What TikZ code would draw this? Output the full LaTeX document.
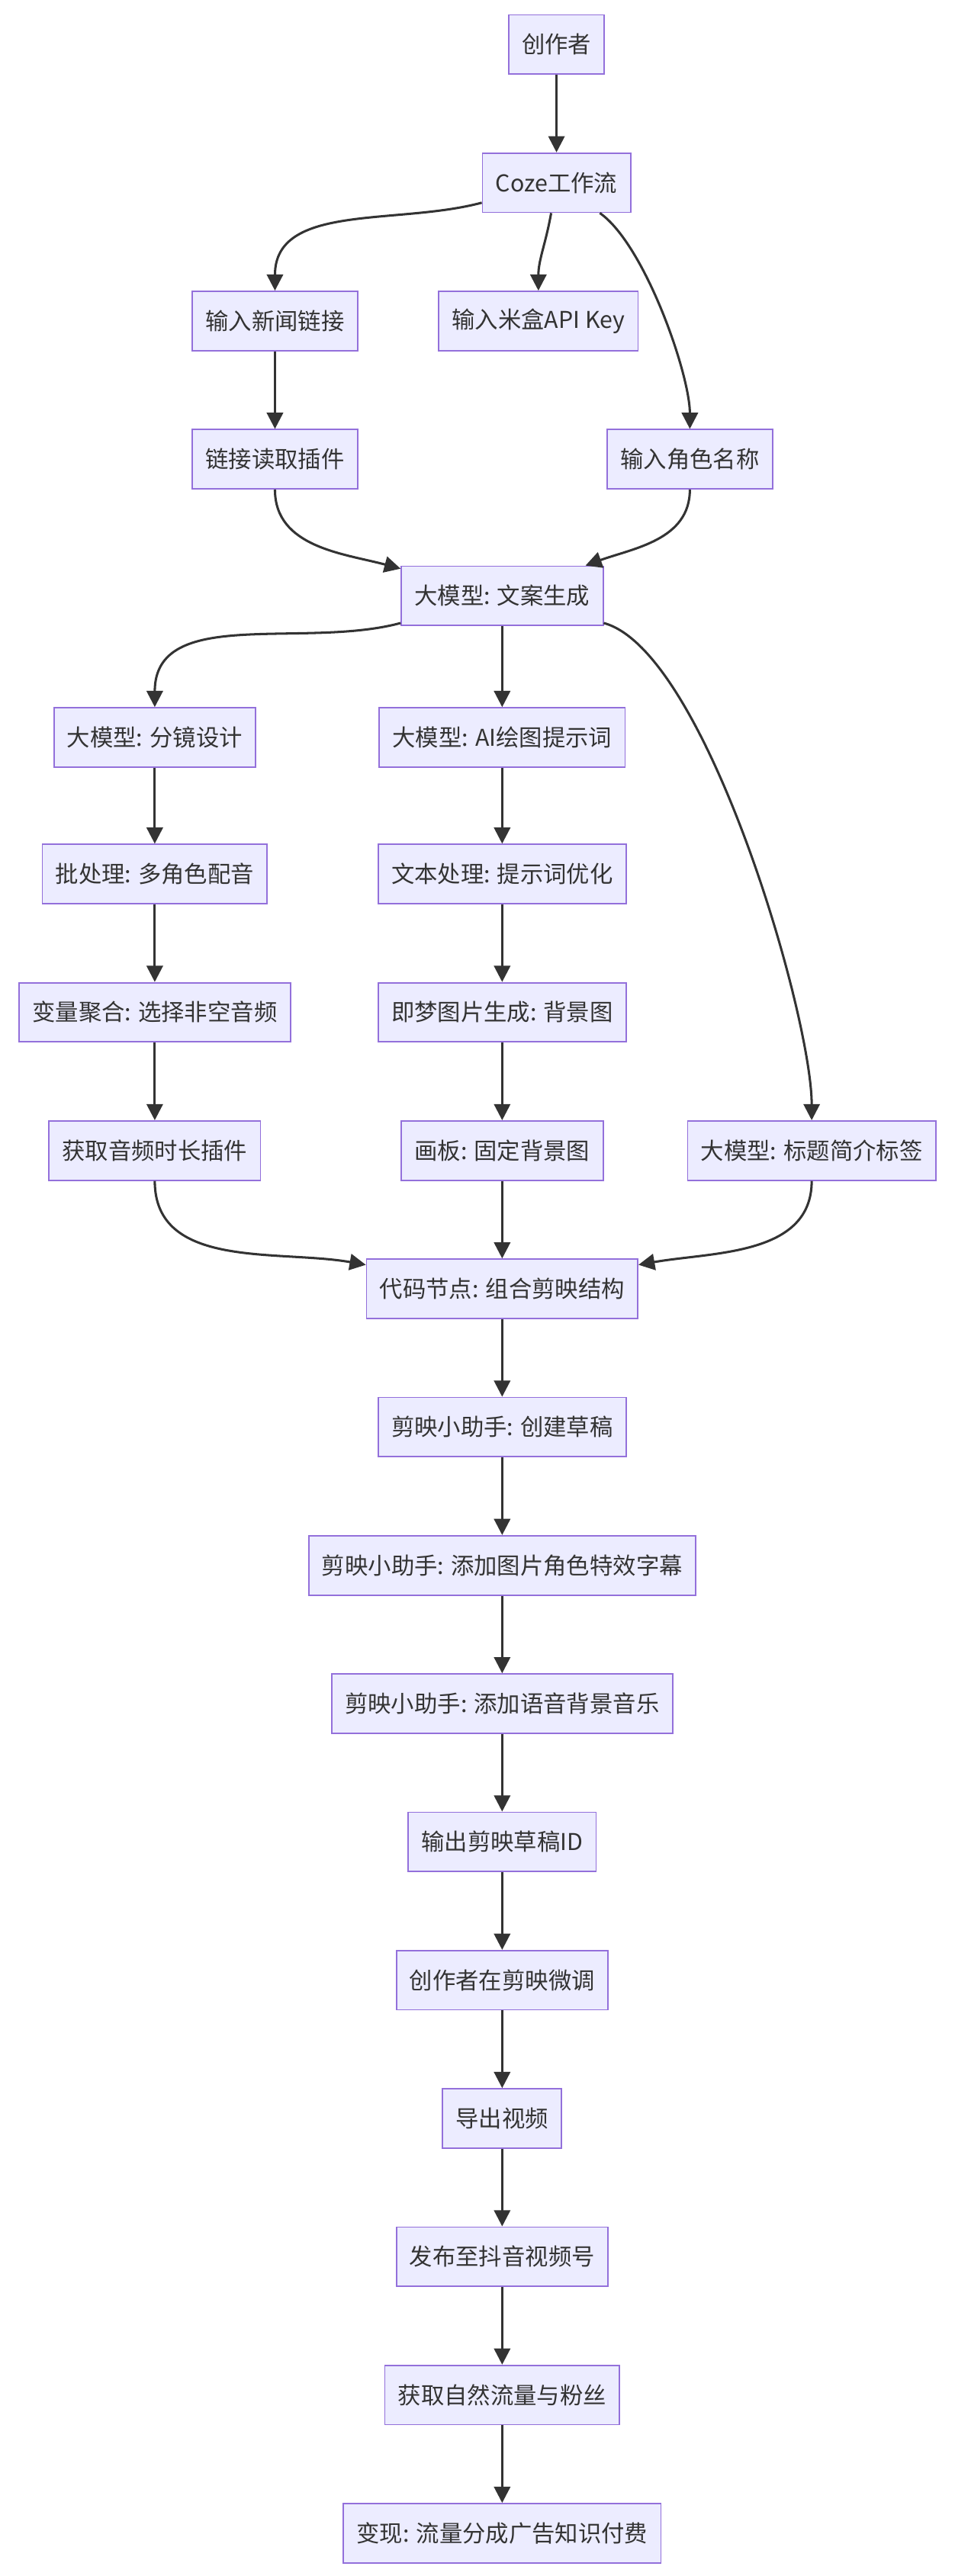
\documentclass[tikz,border=0pt]{standalone}
\usepackage{fontspec}
\setmainfont{Noto Sans CJK SC}
\usetikzlibrary{arrows.meta}
\definecolor{boxfill}{HTML}{ECECFF}
\definecolor{boxline}{HTML}{9370DB}
\definecolor{ink}{HTML}{333333}
\tikzset{
  box/.style={draw=boxline, fill=boxfill, text=ink, line width=0.6pt,
    minimum height=0.9cm, inner xsep=0.2cm, font=\fontsize{10}{12}\selectfont},
  flow/.style={draw=ink, line width=1pt, -{Triangle[length=7pt,width=7pt]}}
}
\begin{document}
\begin{tikzpicture}[x=0.025cm, y=-0.025cm]
    \useasboundingbox (0,0) rectangle (580,1565);

    \node[box] (author) at (338,27) {创作者};
    \node[box] (coze) at (338,111) {Coze工作流};
    \node[box] (news) at (167,195) {输入新闻链接};
    \node[box] (key) at (327,195) {输入米盒API Key};
    \node[box] (link) at (167,279) {链接读取插件};
    \node[box] (role) at (419,279) {输入角色名称};
    \node[box] (copy) at (305,362) {大模型: 文案生成};
    \node[box] (shots) at (94,448) {大模型: 分镜设计};
    \node[box] (prompt) at (305,448) {大模型: AI绘图提示词};
    \node[box] (dub) at (94,531) {批处理: 多角色配音};
    \node[box] (refine) at (305,531) {文本处理: 提示词优化};
    \node[box] (merge) at (94,615) {变量聚合: 选择非空音频};
    \node[box] (image) at (305,615) {即梦图片生成: 背景图};
    \node[box] (dur) at (94,699) {获取音频时长插件};
    \node[box] (board) at (305,699) {画板: 固定背景图};
    \node[box] (title) at (493,699) {大模型: 标题简介标签};
    \node[box] (code) at (305,783) {代码节点: 组合剪映结构};
    \node[box] (draft) at (305,867) {剪映小助手: 创建草稿};
    \node[box] (pics) at (305,951) {剪映小助手: 添加图片角色特效字幕};
    \node[box] (audio) at (305,1035) {剪映小助手: 添加语音背景音乐};
    \node[box] (id) at (305,1119) {输出剪映草稿ID};
    \node[box] (tune) at (305,1203) {创作者在剪映微调};
    \node[box] (export) at (305,1287) {导出视频};
    \node[box] (publish) at (305,1371) {发布至抖音视频号};
    \node[box] (fans) at (305,1455) {获取自然流量与粉丝};
    \node[box] (cash) at (305,1539) {变现: 流量分成广告知识付费};

    \draw[flow] (author) -- (coze);
    \draw[flow] (coze) to[out=195,in=90] (news);
    \draw[flow] (coze) to[out=-100,in=90] (key);
    \draw[flow] (coze) to[out=-35,in=90,looseness=0.6] (role);
    \draw[flow] (news) -- (link);
    \draw[flow] (link) to[out=-90,in=165] (copy);
    \draw[flow] (role) to[out=-90,in=20] (copy);
    \draw[flow] (copy) to[out=195,in=90] (shots);
    \draw[flow] (copy) -- (prompt);
    \draw[flow] (copy) to[out=-15,in=90,looseness=0.5] (title);
    \draw[flow] (shots) -- (dub);
    \draw[flow] (dub) -- (merge);
    \draw[flow] (merge) -- (dur);
    \draw[flow] (prompt) -- (refine);
    \draw[flow] (refine) -- (image);
    \draw[flow] (image) -- (board);
    \draw[flow] (dur) to[out=-90,in=170] (code);
    \draw[flow] (board) -- (code);
    \draw[flow] (title) to[out=-90,in=10] (code);
    \draw[flow] (code) -- (draft);
    \draw[flow] (draft) -- (pics);
    \draw[flow] (pics) -- (audio);
    \draw[flow] (audio) -- (id);
    \draw[flow] (id) -- (tune);
    \draw[flow] (tune) -- (export);
    \draw[flow] (export) -- (publish);
    \draw[flow] (publish) -- (fans);
    \draw[flow] (fans) -- (cash);

\end{tikzpicture}
\end{document}
